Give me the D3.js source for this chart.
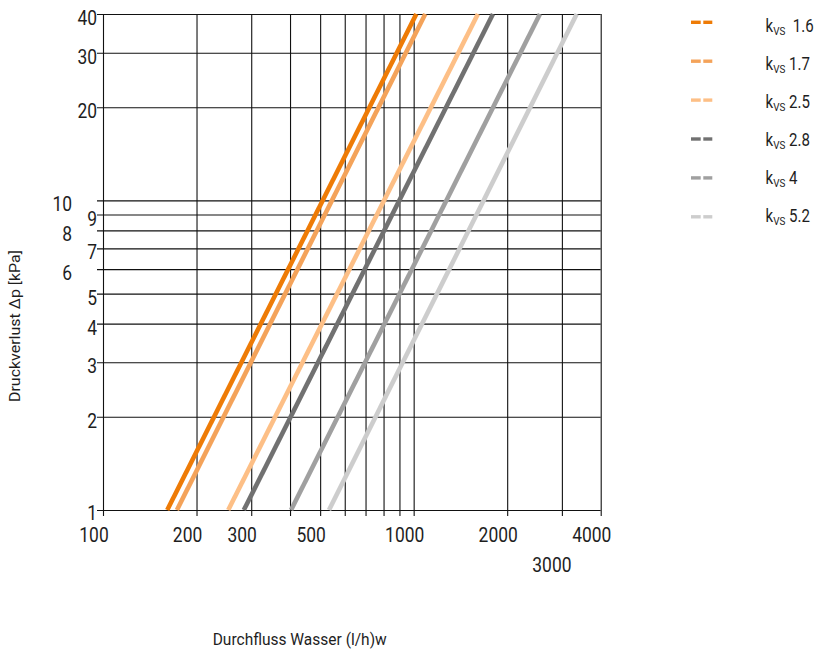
<!DOCTYPE html>
<html><head><meta charset="utf-8">
<script src="https://cdn.jsdelivr.net/npm/d3@7"></script>
<style>
body{margin:0;background:#fff}
svg{display:block}
text{font-family:Roboto,"Open Sans",sans-serif;fill:#1e1e1e}
</style>
</head><body>
<svg id="c" width="819" height="651"></svg>
<script>
// ---- data ----
const seriesNames = ["1.6", "1.7", "2.5", "2.8", "4", "5.2"];
const flowAt1kPa  = [161, 173, 253, 284, 403, 534];      // l/h at Δp = 1 kPa
const flowAt40kPa = [1020, 1090, 1610, 1800, 2550, 3350]; // l/h at Δp = 40 kPa
const pressureEnds = [1, 40];
const seriesColors = ["#ee7b06", "#f4a35a", "#fdbf86", "#717171", "#a0a0a0", "#cdcdcd"];
const xGridValues = [100, 200, 300, 400, 500, 600, 700, 800, 900, 1000, 2000, 3000, 4000];
const yGridValues = [1, 2, 3, 4, 5, 6, 7, 8, 9, 10, 20, 30, 40];
const xTickLabels = [100, 200, 300, 500, 1000, 2000, 4000];
const xTickLabelsSecondRow = [3000];
const yTickLabels = [1, 2, 3, 4, 5, 6, 7, 8, 9, 10, 20, 30, 40];
const yTickLabelsOuter = [6, 8, 10];
const xTitle = "Durchfluss Wasser (l/h)w";
const yTitle = "Druckverlust Δp [kPa]";

// ---- layout ----
const svg = d3.select("#c");
const pL = 103, pR = 600.7, pT = 14, pB = 510;
const x = d3.scaleLog().domain([100, 4000]).range([pL, pR]);
const y = d3.scaleLog().domain([1, 40]).range([pB, pT]);

// grid via axes
const gx = svg.append("g").attr("transform", `translate(0,${pB})`)
  .call(d3.axisBottom(x).tickValues(xGridValues).tickSizeInner(-(pB - pT)).tickSizeOuter(0).tickFormat(""));
gx.select(".domain").remove();
gx.selectAll(".tick line").attr("y1", 6).attr("stroke", "#111").attr("stroke-width", 1.1);

const gy = svg.append("g").attr("transform", `translate(${pL},0)`)
  .call(d3.axisLeft(y).tickValues(yGridValues).tickSizeInner(-(pR - pL)).tickSizeOuter(0).tickFormat(""));
gy.select(".domain").remove();
gy.selectAll(".tick line").attr("x1", -6).attr("stroke", "#111").attr("stroke-width", 1.1);

// series lines
const line = d3.line().x(d => x(d[0])).y(d => y(d[1]));
svg.append("g").selectAll("path").data(seriesNames).join("path")
  .attr("d", (d, i) => line([[flowAt1kPa[i], pressureEnds[0]], [flowAt40kPa[i], pressureEnds[1]]]))
  .attr("fill", "none")
  .attr("stroke", (d, i) => seriesColors[i])
  .attr("stroke-width", 4.6)
  .attr("stroke-linecap", "butt");

// tick labels
const sx = 0.83;
const tl = svg.append("g").attr("font-size", 21);
tl.selectAll("text.xl").data(xTickLabels).join("text").attr("class", "xl")
  .attr("text-anchor", "middle")
  .attr("transform", d => `translate(${x(d) - 9},542) scale(${sx},1)`)
  .text(d => d);
tl.selectAll("text.xl2").data(xTickLabelsSecondRow).join("text").attr("class", "xl2")
  .attr("text-anchor", "middle")
  .attr("transform", d => `translate(${x(d) - 10},571.7) scale(${sx},1)`)
  .text(d => d);
tl.selectAll("text.yl").data(yTickLabels).join("text").attr("class", "yl")
  .attr("text-anchor", "end")
  .attr("transform", d => `translate(${yTickLabelsOuter.includes(d) ? 72 : 97},${y(d) + (d === 1 ? 9.5 : 11)}) scale(${sx},1)`)
  .text(d => d);

// axis titles
svg.append("text").attr("x", 212.7).attr("y", 645).attr("font-size", 16)
  .attr("textLength", 174).attr("lengthAdjust", "spacingAndGlyphs").text(xTitle);
svg.append("text").attr("transform", "translate(20,402) rotate(-90)").attr("font-size", 15.5)
  .attr("textLength", 152).attr("lengthAdjust", "spacingAndGlyphs").text(yTitle);

// legend
const lg = svg.append("g");
seriesNames.forEach((name, i) => {
  const dy = 22.3 + i * 38.9;
  [[691, 700.7], [703.3, 712.3]].forEach(([a, b]) => {
    lg.append("line").attr("x1", a).attr("x2", b).attr("y1", dy).attr("y2", dy)
      .attr("stroke", seriesColors[i]).attr("stroke-width", 3.4);
  });
  const t = lg.append("text").attr("font-size", 17.5)
    .attr("transform", `translate(765.5,${32.3 + i * 37.9}) scale(0.86,1)`);
  t.append("tspan").text("k");
  t.append("tspan").attr("font-size", 11.5).attr("dy", 3).text("VS");
  t.append("tspan").attr("dy", -3).text((i === 0 ? "\u00a0 " : "\u00a0") + name);
});
</script>
</body></html>
